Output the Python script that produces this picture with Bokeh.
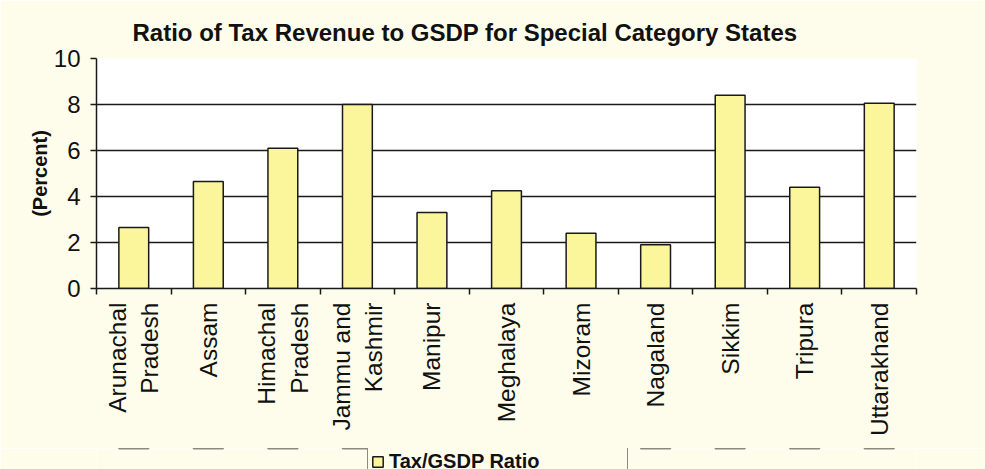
import math
from bokeh.plotting import figure
from bokeh.layouts import column
from bokeh.models import Range1d, FixedTicker, Legend, LegendItem
from bokeh.embed import file_html
from bokeh.resources import INLINE

states = ["Arunachal\nPradesh", "Assam", "Himachal\nPradesh", "Jammu and\nKashmir",
          "Manipur", "Meghalaya", "Mizoram", "Nagaland", "Sikkim", "Tripura", "Uttarakhand"]
ratio = [2.65, 4.65, 6.1, 8.0, 3.3, 4.25, 2.4, 1.9, 8.4, 4.4, 8.05]
y_ticks = [0, 2, 4, 6, 8, 10]
title_text = "Ratio of Tax Revenue to GSDP for Special Category States"
y_label = "(Percent)"
series_name = "Tax/GSDP Ratio"

n = len(states)
centers = [i + 0.5 for i in range(n)]
bounds = list(range(n + 1))

CREAM = "#FEFDEC"
BAR = "#FBF59C"
INK = "#1A1A1A"
FONT = "Liberation Sans"

p = figure(width=985, height=448, output_backend="svg", toolbar_location=None,
           x_range=Range1d(0, n), y_range=Range1d(0, 10),
           min_border_left=96, min_border_right=69, min_border_top=58, min_border_bottom=160)
p.border_fill_color = CREAM
p.background_fill_color = "white"
p.outline_line_color = None

r = p.vbar(x=centers, top=ratio, width=0.4, bottom=0,
           fill_color=BAR, line_color=INK, line_width=1.5)

# title
p.title.text = title_text
p.title.text_font = FONT
p.title.text_font_size = "24px"
p.title.text_font_style = "bold"
p.title.text_color = "#111111"
p.title.align = "left"
p.title.offset = 36
p.title.standoff = 25

# y axis
p.yaxis.ticker = FixedTicker(ticks=y_ticks)
p.yaxis.axis_label = y_label
p.yaxis.axis_label_text_font = FONT
p.yaxis.axis_label_text_font_size = "20px"
p.yaxis.axis_label_text_font_style = "bold"
p.yaxis.axis_label_text_color = "#111111"
p.yaxis.axis_label_standoff = 0
p.yaxis.major_label_text_font = FONT
p.yaxis.major_label_text_font_size = "24px"
p.yaxis.major_label_text_color = "#111111"
p.yaxis.major_label_standoff = 10
p.yaxis.axis_line_color = INK
p.yaxis.axis_line_width = 1.5
p.yaxis.major_tick_line_color = INK
p.yaxis.major_tick_line_width = 1.5
p.yaxis.major_tick_in = 0
p.yaxis.major_tick_out = 6
p.yaxis.minor_tick_line_color = None

# x axis: labels at centers, ticks between categories
p.xaxis.ticker = FixedTicker(ticks=centers, minor_ticks=bounds)
p.xaxis.major_label_overrides = {c: s for c, s in zip(centers, states)}
p.xaxis.major_label_orientation = math.pi / 2
p.xaxis.major_label_text_font = FONT
p.xaxis.major_label_text_font_size = "24.5px"
p.xaxis.major_label_text_color = "#111111"
p.xaxis.major_label_standoff = 8
p.xaxis.major_tick_line_color = None
p.xaxis.minor_tick_line_color = INK
p.xaxis.minor_tick_line_width = 1.5
p.xaxis.minor_tick_in = 0
p.xaxis.minor_tick_out = 6
p.xaxis.axis_line_color = INK
p.xaxis.axis_line_width = 1.5

# grid
p.xgrid.grid_line_color = None
p.ygrid.ticker = FixedTicker(ticks=[t for t in y_ticks if 0 < t < 10])
p.ygrid.grid_line_color = INK
p.ygrid.grid_line_width = 1.5

# legend strip below the chart (proxy bars lie far outside its visible range)
lg = figure(width=985, height=21, output_backend="svg", toolbar_location=None,
            x_range=Range1d(0, n), y_range=Range1d(-1000, -999),
            x_axis_location=None, y_axis_location=None, min_border=0)
lg.border_fill_color = CREAM
lg.background_fill_color = CREAM
lg.outline_line_color = None
lg.xgrid.grid_line_color = None
lg.ygrid.grid_line_color = None
r_leg = lg.vbar(x=centers, top=ratio, width=0.4, bottom=0,
                fill_color=BAR, line_color=INK, line_width=1.5)

legend = Legend(items=[LegendItem(label=series_name, renderers=[r_leg])],
                location=(271, -8), orientation="horizontal",
                border_line_color=INK, border_line_width=1.5,
                background_fill_color=CREAM, background_fill_alpha=1.0,
                label_text_font=FONT, label_text_font_size="20px",
                label_text_font_style="bold", label_text_color="#111111",
                glyph_width=13, glyph_height=13, label_standoff=5,
                padding=3, spacing=0, margin=0, label_width=235, label_height=20)
lg.add_layout(legend, "center")

layout = column(p, lg, spacing=0)

open("out.html", "w").write(file_html(layout, INLINE))
